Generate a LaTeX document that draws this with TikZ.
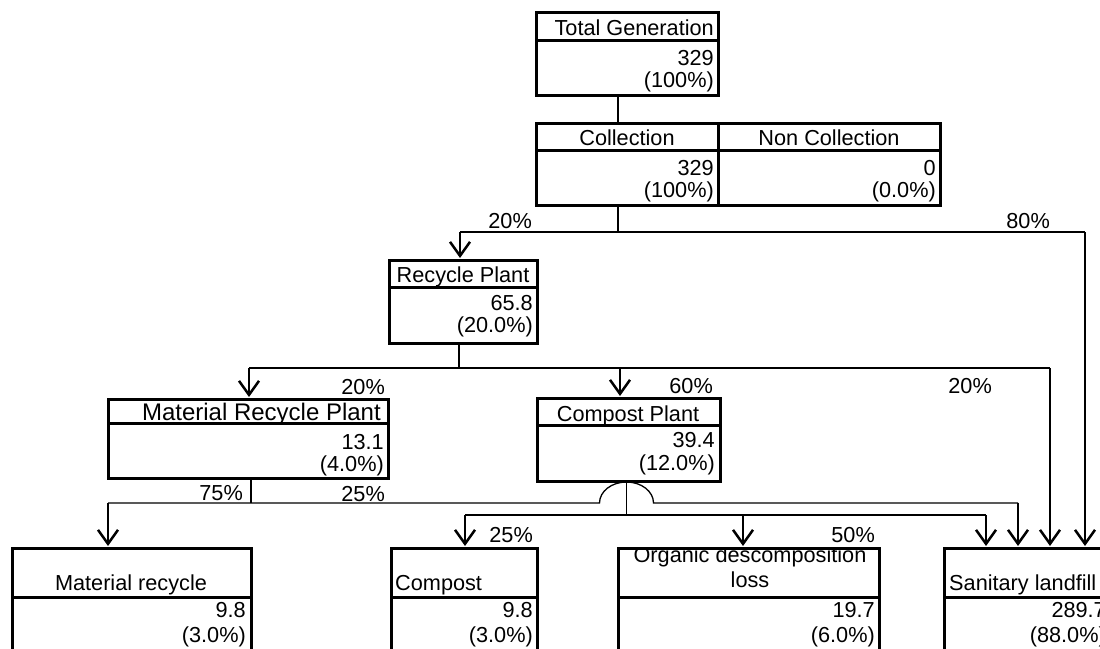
\documentclass[tikz,border=0pt]{standalone}
\usepackage{fontspec}
\setmainfont{Liberation Sans}
\usetikzlibrary{arrows.meta}
\tikzset{
  cell/.style={draw,line width=3pt,inner sep=0pt,outer sep=0pt,anchor=north west},
  rule/.style={line width=3pt},
  flow/.style={line width=1.3pt},
  feed/.style={line width=2.5pt,-{Straight Barb[length=14pt,width=20pt]},shorten >=2pt},
  head/.style={inner sep=0pt,anchor=base},
  val/.style={inner sep=0pt,anchor=base east},
  lft/.style={inner sep=0pt,anchor=base west},
}
\begin{document}
\begin{tikzpicture}[x=1pt,y=-1pt,font=\fontsize{21.7}{26}\selectfont]
\useasboundingbox (0,0) rectangle (1100,648);
\clip (0,0) rectangle (1100,648);

\node[cell,minimum width=182pt,minimum height=83pt] (tg) at (536,12) {};
\draw[rule] (536,40) -- (718,40);
\node[val] (tgh) at (714,35) {Total Generation};
\node[val] (tgv) at (714,65) {329};
\node[val] (tgp) at (714,87) {(100\%)};

\node[cell,minimum width=182pt,minimum height=82pt] (col) at (536,123) {};
\node[cell,minimum width=222pt,minimum height=82pt] (ncol) at (718,123) {};
\draw[rule] (536,150) -- (940,150);
\node[head] (colh) at (627,145) {Collection};
\node[val] (colv) at (714,175) {329};
\node[val] (colp) at (714,197) {(100\%)};
\node[head] (ncolh) at (829,145) {Non Collection};
\node[val] (ncolv) at (936,175) {0};
\node[val] (ncolp) at (936,197) {(0.0\%)};

\node[cell,minimum width=148pt,minimum height=83pt] (rp) at (389,260) {};
\draw[rule] (389,287) -- (537,287);
\node[head] (rph) at (463,282) {Recycle Plant};
\node[val] (rpv) at (533,310) {65.8};
\node[val] (rpp) at (533,332) {(20.0\%)};

\node[cell,minimum width=280pt,minimum height=79pt] (mrp) at (108,399) {};
\draw[rule] (108,423) -- (388,423);
\node[val,font=\fontsize{24}{28}\selectfont] (mrph) at (381,420) {Material Recycle Plant};
\node[val] (mrpv) at (384,449) {13.1};
\node[val] (mrpp) at (384,471) {(4.0\%)};

\node[cell,minimum width=183pt,minimum height=83pt] (cp) at (537,398) {};
\draw[rule] (537,425) -- (720,425);
\node[head] (cph) at (628,421) {Compost Plant};
\node[val] (cpv) at (715,447) {39.4};
\node[val] (cpp) at (715,470) {(12.0\%)};

\node[cell,minimum width=239pt,minimum height=120pt] (mr) at (12,548) {};
\draw[rule] (12,597) -- (251,597);
\node[head] (mrh) at (131,590) {Material recycle};
\node[val] (mrv) at (246,617) {9.8};
\node[val] (mrpc) at (246,642) {(3.0\%)};

\node[cell,minimum width=146pt,minimum height=120pt] (cm) at (391,548) {};
\draw[rule] (391,597) -- (537,597);
\node[lft] (cmh) at (395,590) {Compost};
\node[val] (cmv) at (533,617) {9.8};
\node[val] (cmp) at (533,642) {(3.0\%)};

\begin{scope}
\clip (618,548) rectangle (879,668);
\node[head] (odlh) at (750,562) {Organic descomposition};
\end{scope}
\node[cell,minimum width=261pt,minimum height=120pt] (odl) at (618,548) {};
\draw[rule] (618,597) -- (879,597);
\node[head] (odll) at (750,587) {loss};
\node[val] (odlv) at (875,617) {19.7};
\node[val] (odlp) at (875,642) {(6.0\%)};

\node[cell,minimum width=166pt,minimum height=120pt] (sl) at (944,548) {};
\draw[rule] (944,597) -- (1110,597);
\node[lft] (slh) at (949,590) {Sanitary landfill};
\node[val] (slv) at (1106,617) {289.7};
\node[val] (slp) at (1106,642) {(88.0\%)};

\coordinate (j0) at (460,232);
\coordinate (j0e) at (1085,232);
\draw[flow] ([xshift=-9pt]tg.south) -- ([xshift=-9pt]col.north);
\draw[flow] ([xshift=-9pt]col.south) -- ([xshift=-9pt]col.south |- j0);
\draw[flow] (j0) -- (j0e);
\draw[feed] (j0) -- (j0 |- rp.north);
\draw[feed] (j0e) -- (j0e |- sl.north);
\node[val] (p20a) at (532,228) {20\%};
\node[val] (p80) at (1050,228) {80\%};

\coordinate (j1) at (249,368);
\coordinate (j1c) at (620,368);
\coordinate (j1e) at (1050,368);
\draw[flow] ([xshift=-4pt]rp.south) -- ([xshift=-4pt]rp.south |- j1);
\draw[flow] (j1) -- (j1e);
\draw[feed] (j1) -- (j1 |- mrp.north);
\draw[feed] (j1c) -- (j1c |- cp.north);
\draw[feed] (j1e) -- (j1e |- sl.north);
\node[val] (p20b) at (385,394) {20\%};
\node[val] (p60) at (713,393) {60\%};
\node[val] (p20c) at (992,393) {20\%};

\coordinate (j2) at (108,503);
\coordinate (j2e) at (1018,503);
\coordinate (hop) at ([xshift=-2pt]cp.south |- j2);
\draw[flow] ([xshift=3pt]mrp.south) -- ([xshift=3pt]mrp.south |- j2);
\draw[flow] (j2) -- ([xshift=-27pt]hop) arc[start angle=180,end angle=0,x radius=27pt,y radius=21pt] -- (j2e);
\draw[feed] (j2) -- (j2 |- mr.north);
\draw[feed] (j2e) -- (j2e |- sl.north);
\node[val] (p75) at (243,500) {75\%};
\node[val] (p25a) at (385,501) {25\%};

\coordinate (j3) at (465,515);
\coordinate (j3o) at (743,515);
\coordinate (j3e) at (986,515);
\draw[flow] ([xshift=-2pt]cp.south) -- ([xshift=-2pt]cp.south |- j3);
\draw[flow] (j3) -- (j3e);
\draw[feed] (j3) -- (j3 |- cm.north);
\draw[feed] (j3o) -- (j3o |- odl.north);
\draw[feed] (j3e) -- (j3e |- sl.north);
\node[val] (p25b) at (533,542) {25\%};
\node[val] (p50) at (875,542) {50\%};
\end{tikzpicture}
\end{document}
